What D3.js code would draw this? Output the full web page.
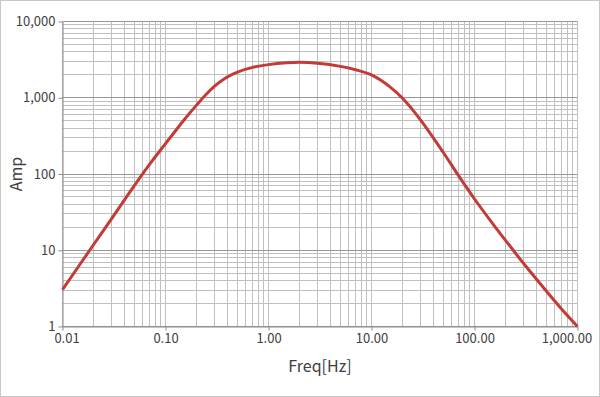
<!DOCTYPE html>
<html>
<head>
<meta charset="utf-8">
<script src="https://cdn.jsdelivr.net/npm/d3@7/dist/d3.min.js"></script>
<style>
  html, body { margin: 0; padding: 0; background: #fff; }
  svg { display: block; }
  text { font-family: "Noto Sans CJK JP", "Noto Sans", sans-serif; fill: #404040; }
</style>
</head>
<body>
<svg id="chart" width="600" height="397"></svg>
<script>
// ---- data ----
const freq = [0.01, 0.02, 0.03, 0.05, 0.07, 0.1, 0.15, 0.2, 0.25, 0.3, 0.35, 0.4, 0.5, 0.7, 1, 1.5, 2, 3, 5, 7, 10, 15, 20, 30, 50, 70, 100, 150, 200, 300, 500, 700, 1000];
const amp  = [3.05, 11.8, 26, 71, 134, 250, 504, 800, 1120, 1420, 1670, 1880, 2170, 2500, 2720, 2870, 2915, 2830, 2580, 2330, 1990, 1400, 983, 510, 190, 95, 47, 22.4, 13.5, 6.7, 2.9, 1.7, 1.0];
const xTicks = [0.01, 0.1, 1, 10, 100, 1000];
const xTickLabels = ["0.01", "0.10", "1.00", "10.00", "100.00", "1,000.00"];
const yTicks = [1, 10, 100, 1000, 10000];
const yTickLabels = ["1", "10", "100", "1,000", "10,000"];
const xTitle = "Freq[Hz]";
const yTitle = "Amp";

// ---- layout ----
const W = 600, H = 397;
const L = 62.5, R = 577.5, T = 21.5, B = 326.5;

const svg = d3.select("#chart");
svg.append("rect").attr("x", 0.5).attr("y", 0.5).attr("width", W - 1).attr("height", H - 1)
  .attr("fill", "#fff").attr("stroke", "#c8c8c8").attr("stroke-width", 1);

const x = d3.scaleLog().domain([0.01, 1000]).range([L, R]);
const y = d3.scaleLog().domain([1, 10000]).range([B, T]);

function minors(lo, hi) {
  const out = [];
  for (let d = lo; d < hi * 0.999; d *= 10) {
    for (let k = 1; k <= 9; k++) out.push(k * d);
  }
  out.push(hi);
  return out;
}
const xGrid = minors(0.01, 1000);
const yGrid = minors(1, 10000);
const isMajor = v => Math.abs(Math.log10(v) - Math.round(Math.log10(v))) < 1e-9;
const snap = p => Math.round(p - 0.5) + 0.5;

const grid = svg.append("g");
grid.selectAll("line.vx").data(xGrid).join("line")
  .attr("x1", d => snap(x(d))).attr("x2", d => snap(x(d)))
  .attr("y1", T).attr("y2", B)
  .attr("stroke", "#c0c0c0").attr("stroke-width", 1);
grid.selectAll("line.hy").data(yGrid.filter(d => !isMajor(d))).join("line")
  .attr("x1", L).attr("x2", R)
  .attr("y1", d => snap(y(d))).attr("y2", d => snap(y(d)))
  .attr("stroke", "#c0c0c0").attr("stroke-width", 1);
grid.selectAll("line.hmaj").data(yGrid.filter(d => isMajor(d))).join("line")
  .attr("x1", L).attr("x2", R)
  .attr("y1", d => snap(y(d))).attr("y2", d => snap(y(d)))
  .attr("stroke", "#989898").attr("stroke-width", 1);

// axes
const xAxis = d3.axisBottom(x).tickValues(xTicks).tickFormat((d, i) => xTickLabels[i]).tickSize(4).tickSizeOuter(0);
const gx = svg.append("g").attr("transform", `translate(0,${B})`).call(xAxis);
gx.select(".domain").attr("stroke", "#8c8c8c");
gx.selectAll(".tick line").attr("stroke", "#8c8c8c");
gx.selectAll(".tick text").attr("font-size", 13).attr("fill", "#404040")
  .attr("font-family", '"Noto Sans CJK JP", "Noto Sans", sans-serif')
  .attr("y", 7).attr("dy", "0.71em");
gx.selectAll(".tick text").filter((d, i) => i === 0).attr("dx", 4);
gx.selectAll(".tick text").filter((d, i) => i === xTicks.length - 1).attr("dx", -11);

const yAxis = d3.axisLeft(y).tickValues(yTicks).tickFormat((d, i) => yTickLabels[i]).tickSize(4).tickSizeOuter(0);
const gy = svg.append("g").attr("transform", `translate(${L},0)`).call(yAxis);
gy.select(".domain").attr("stroke", "#8c8c8c");
gy.selectAll(".tick line").attr("stroke", "#8c8c8c");
gy.selectAll(".tick text").attr("font-size", 13).attr("fill", "#404040")
  .attr("font-family", '"Noto Sans CJK JP", "Noto Sans", sans-serif')
  .attr("x", -7);

// line
const pts = freq.map((f, i) => [f, amp[i]]);
const line = d3.line().x(d => x(d[0])).y(d => y(d[1])).curve(d3.curveCatmullRom.alpha(0.5));
svg.append("path").datum(pts).attr("d", line)
  .attr("fill", "none").attr("stroke", "#c23b36").attr("stroke-width", 3)
  .attr("stroke-linejoin", "round").attr("stroke-linecap", "butt");

// titles
svg.append("text").attr("x", (L + R) / 2).attr("y", 372).attr("text-anchor", "middle")
  .attr("font-size", 16).text(xTitle);
svg.append("text").attr("transform", `translate(22,${(T + B) / 2}) rotate(-90)`)
  .attr("text-anchor", "middle").attr("font-size", 16).text(yTitle);
</script>
</body>
</html>
